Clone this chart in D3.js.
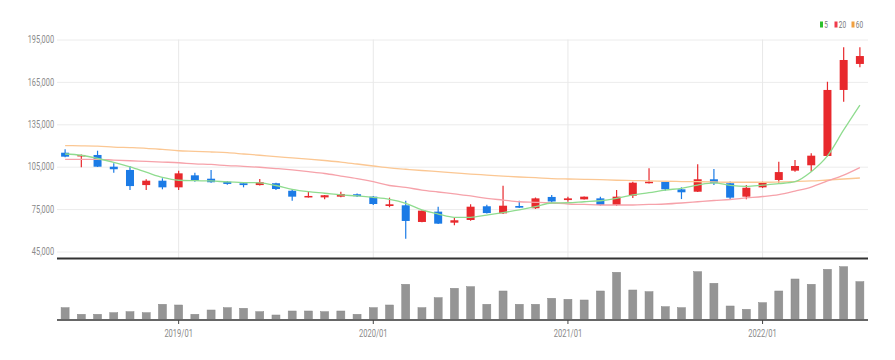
<!DOCTYPE html>
<html><head><meta charset="utf-8">
<script src="https://cdn.jsdelivr.net/npm/d3@7/dist/d3.min.js"></script>
<style>body{margin:0;background:#fff}svg{display:block}</style>
</head><body><svg id="c" width="895" height="360"></svg>
<script>
const months = ["2018/06","2018/07","2018/08","2018/09","2018/10","2018/11","2018/12",
"2019/01","2019/02","2019/03","2019/04","2019/05","2019/06","2019/07","2019/08","2019/09","2019/10","2019/11","2019/12",
"2020/01","2020/02","2020/03","2020/04","2020/05","2020/06","2020/07","2020/08","2020/09","2020/10","2020/11","2020/12",
"2021/01","2021/02","2021/03","2021/04","2021/05","2021/06","2021/07","2021/08","2021/09","2021/10","2021/11","2021/12",
"2022/01","2022/02","2022/03","2022/04","2022/05","2022/06","2022/07"];
const open  = [114900,112600,113300,105000,102700,92000,95100,90400,98900,96500,94400,93300,92000,93300,88000,83300,83300,83800,85500,83800,77200,77700,65900,73200,65400,67300,77000,72000,77200,75600,83600,81400,81900,82600,77900,84500,93300,94400,89000,87300,96100,93300,83800,90400,95600,102200,106000,112600,159300,177700];
const high  = [117300,113600,116300,107400,105500,96100,96800,102200,100800,102700,94900,93500,96300,93700,89000,87300,85000,87300,86000,84300,83100,80900,74000,76700,68900,78400,78100,91600,80900,83200,85000,83800,83900,83800,88500,94400,103900,94900,90400,106700,103400,94500,92000,94400,108500,109700,114500,165100,189500,189500];
const low   = [111600,104600,104800,100800,88500,88500,89000,88500,94400,93700,92300,90400,91700,88500,80900,83200,81900,83300,83600,77900,76300,54100,65700,64500,63500,66800,71900,71500,75800,75100,79100,80200,81800,77500,77200,82900,93100,88000,82100,87100,92000,81900,81900,89900,93700,101500,101500,112200,151000,175300];
const close = [112100,113300,105000,103200,91300,95100,90400,100300,95100,94000,92800,92000,94000,89200,83800,84300,84800,85700,84100,78600,78400,66600,73900,64700,67100,76700,72200,77400,76000,82600,80400,82600,83800,77900,83800,93700,94400,89000,86900,96100,93300,83100,90100,93700,101200,105500,112800,159300,180500,183300];
const volume = [123000,57000,57000,73000,83000,73000,157000,150000,57000,100000,123000,117000,83000,50000,90000,90000,83000,90000,57000,123000,150000,357000,123000,223000,317000,333000,157000,290000,157000,157000,217000,207000,200000,290000,477000,300000,283000,133000,123000,483000,367000,140000,107000,173000,290000,410000,357000,507000,533000,383000];
const ma5  = [114000,113100,110800,108000,104800,101100,97400,95400,95100,94900,94200,93800,93600,91700,89000,87300,86200,85000,84300,83300,81900,79100,74400,71500,69200,69200,70800,72500,74400,76700,79300,79500,80200,80900,82600,85000,86600,88500,89700,92000,93500,91800,91100,92000,93000,94400,101500,112600,131000,148600];
const ma20 = [110200,110200,110200,109700,109200,108800,108300,107800,107000,106600,105800,105300,104600,103700,102700,101500,100200,98400,96600,94400,91700,90300,88500,87100,85700,84300,82600,81400,80200,79800,79300,78600,78300,77900,77900,77900,78300,78600,79300,80200,81100,81800,82900,83900,85300,87800,90600,94900,99100,104400];
const ma60 = [119900,119800,119600,118900,118500,118000,117200,116300,115900,115400,114900,114000,113100,112100,111300,110400,109400,108300,106900,105500,104100,103200,102300,101500,100700,99800,99100,98400,97700,97200,96600,96300,96100,95800,95400,95200,95000,94700,94500,94400,94200,94000,94000,94000,94200,94500,94900,95600,96300,97000];
const yTicks = [45000,75000,105000,135000,165000,195000];
const xTicks = ["2019/01","2020/01","2021/01","2022/01"];
const legendItems = [{label:"5",color:"#2cc02c"},{label:"20",color:"#f03a4a"},{label:"60",color:"#f0a040"}];

const svg = d3.select("#c");
const L = 57, R = 868;
const x = d3.scaleBand().domain(months).range([L, R]).padding(0);
const y = d3.scaleLinear().domain([45000,195000]).range([251.5,39.5]);
const yv = d3.scaleLinear().domain([0,600000]).range([320,260]);
const cx = m => x(m) + x.bandwidth()/2;
const UP = "#e8292d", DOWN = "#1b7be6";

// horizontal grid
svg.append("g").attr("transform",`translate(${L},0)`)
  .call(d3.axisLeft(y).tickValues(yTicks).tickSize(-(R-L)).tickFormat(""))
  .call(g=>g.select(".domain").remove())
  .call(g=>g.selectAll("line").attr("stroke","#ececec"));
// vertical grid
svg.append("g").selectAll("line").data(xTicks).join("line")
  .attr("x1",d=>cx(d)).attr("x2",d=>cx(d)).attr("y1",39.5).attr("y2",258)
  .attr("stroke","#e8e8e8");

// y labels
svg.append("g").attr("transform",`translate(${L},0)`)
  .call(d3.axisLeft(y).tickValues(yTicks).tickSize(0).tickPadding(4).tickFormat(d3.format(",")))
  .call(g=>g.select(".domain").remove())
  .call(g=>g.selectAll("text").attr("fill","#8a8a8a").attr("font-size","10px")
        .attr("font-family","Roboto, sans-serif").attr("transform","scale(0.74,1)"));

const idx = d3.range(months.length);
const bw = 8;
// wicks
svg.append("g").selectAll("line").data(idx).join("line")
  .attr("x1",i=>cx(months[i])).attr("x2",i=>cx(months[i]))
  .attr("y1",i=>y(high[i])).attr("y2",i=>y(low[i]))
  .attr("stroke",i=>close[i]>=open[i]?UP:DOWN).attr("stroke-width",1.2);
// bodies
svg.append("g").selectAll("rect").data(idx).join("rect")
  .attr("x",i=>cx(months[i])-bw/2).attr("width",bw)
  .attr("y",i=>y(Math.max(open[i],close[i])))
  .attr("height",i=>Math.max(1.5,Math.abs(y(open[i])-y(close[i]))))
  .attr("fill",i=>close[i]>=open[i]?UP:DOWN);

// MA lines
const line = arr => d3.line().x((d,i)=>cx(months[i])).y(d=>y(d)).curve(d3.curveMonotoneX)(arr);
[[ma60,"#fbc793"],[ma20,"#f6a2aa"],[ma5,"#8fdc8f"]].forEach(([arr,c])=>{
  svg.append("path").attr("d",line(arr)).attr("fill","none").attr("stroke",c).attr("stroke-width",1.3);
});

// separator
svg.append("line").attr("x1",L).attr("x2",R).attr("y1",258.5).attr("y2",258.5).attr("stroke","#333").attr("stroke-width",2);

// volume
svg.append("g").selectAll("rect").data(idx).join("rect")
  .attr("x",i=>cx(months[i])-bw/2).attr("width",bw)
  .attr("y",i=>yv(volume[i])).attr("height",i=>yv(0)-yv(volume[i]))
  .attr("fill","#959595").attr("stroke","#888").attr("stroke-width",0.5);

// x axis
svg.append("g").attr("transform","translate(0,320)")
  .call(d3.axisBottom(x).tickValues(xTicks).tickSize(4).tickPadding(6).tickSizeOuter(0))
  .call(g=>g.select(".domain").attr("stroke","#666").attr("stroke-width",2).attr("d",`M${L},0H${R}`))
  .call(g=>g.selectAll(".tick line").attr("stroke","#444"))
  .call(g=>g.selectAll("text").attr("fill","#8a8a8a").attr("font-size","10.5px")
        .attr("font-family","Roboto, sans-serif").attr("transform","scale(0.72,1)")
        .attr("x",0));
svg.selectAll(".tick text").each(function(){});

// legend
const lg = svg.append("g");
const lx = [820, 834.5, 851.5];
legendItems.forEach((d,i)=>{
  lg.append("rect").attr("x",lx[i]).attr("y",21.5).attr("width",3).attr("height",6).attr("fill",d.color);
  lg.append("text").attr("transform",`translate(${lx[i]+4.3},27.5) scale(0.72,1)`)
    .attr("font-size","9px").attr("font-family","Roboto, sans-serif").attr("fill","#777").text(d.label);
});
</script></body></html>
